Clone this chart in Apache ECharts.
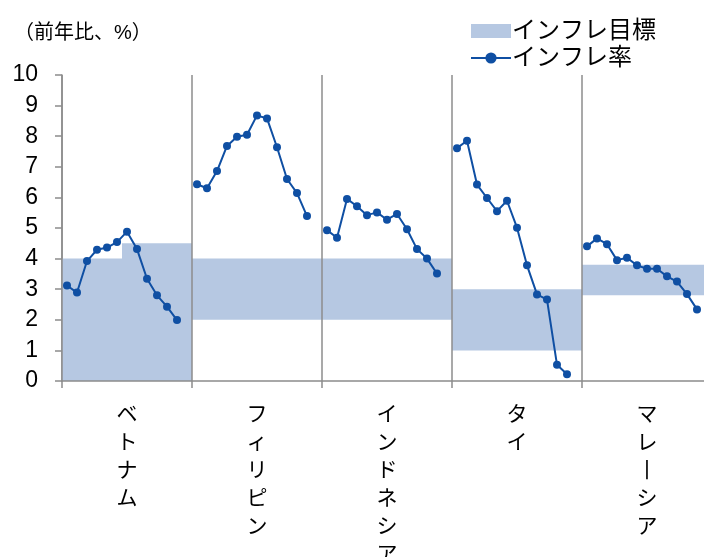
<!DOCTYPE html>
<html>
<head>
<meta charset="utf-8">
<script src="https://cdn.jsdelivr.net/npm/echarts@6/dist/echarts.min.js"></script>
<style>
  html, body { margin: 0; padding: 0; background: #fff; }
  #chart { width: 704px; height: 557px; }
</style>
</head>
<body>
<div id="chart"></div>
<script>
// Country groups (each has 12 monthly readings)
const countries = ['ベトナム', 'フィリピン', 'インドネシア', 'タイ', 'マレーシア'];

// Inflation rate, % y/y
const vietnam     = [3.12, 2.89, 3.92, 4.29, 4.36, 4.54, 4.88, 4.31, 3.34, 2.80, 2.43, 1.99];
const philippines = [6.43, 6.30, 6.86, 7.68, 7.98, 8.05, 8.68, 8.58, 7.64, 6.60, 6.14, 5.39];
const indonesia   = [4.93, 4.68, 5.95, 5.71, 5.42, 5.51, 5.27, 5.46, 4.96, 4.31, 4.00, 3.51];
const thailand    = [7.61, 7.85, 6.42, 5.98, 5.55, 5.89, 5.01, 3.78, 2.83, 2.66, 0.53, 0.22];
const malaysia    = [4.40, 4.66, 4.47, 3.95, 4.03, 3.78, 3.67, 3.67, 3.42, 3.25, 2.84, 2.34];

// Inflation target band per country (lower bound, upper bound in the first and second half)
const targetLower  = [0, 2, 2, 1, 2.8];
const targetUpper1 = [4, 4, 4, 3, 3.8];
const targetUpper2 = [4.5, 4, 4, 3, 3.8];

const yTicks = [0, 1, 2, 3, 4, 5, 6, 7, 8, 9, 10];

const rates = [vietnam, philippines, indonesia, thailand, malaysia];
const SLOTS = 13; // 12 months + one spacer slot per country
const HALF = 6;

const slotNames = [];
const lineData = [];
const bandSegments = []; // [firstSlot, lastSlot, lower, upper]
countries.forEach((c, g) => {
  for (let s = 0; s < SLOTS; s++) {
    slotNames.push(c + '-' + s);
    lineData.push(s < rates[g].length ? rates[g][s] : null);
  }
  const start = g * SLOTS;
  bandSegments.push([start, start + HALF - 1, targetLower[g], targetUpper1[g]]);
  bandSegments.push([start + HALF, start + SLOTS - 1, targetLower[g], targetUpper2[g]]);
});

const FONT = '"Liberation Sans", Arial, "Noto Sans CJK JP", sans-serif';
const BAND = '#b6c8e2';
const LINE = '#0f4fa3';
const AXIS = '#8c8c8c';

const chart = echarts.init(document.getElementById('chart'), null, { renderer: 'canvas' });
chart.setOption({
  animation: false,
  textStyle: { fontFamily: FONT, color: '#000' },
  grid: { left: 62, top: 75, width: 650, height: 306, outerBoundsMode: 'none', containLabel: false },
  legend: {
    orient: 'vertical',
    left: 465,
    top: 14,
    itemWidth: 40,
    itemHeight: 14,
    itemGap: 3,
    textStyle: { fontSize: 24, color: '#000', fontFamily: FONT, padding: [0, 0, 0, -4] },
    data: [
      { name: 'インフレ目標', icon: 'rect', itemStyle: { color: BAND } },
      { name: 'インフレ率' }
    ]
  },
  graphic: [{
    type: 'text',
    left: 14,
    top: 23,
    style: { text: '（前年比、%）', font: '20px ' + FONT, fill: '#000' }
  }],
  xAxis: [
    {
      type: 'category',
      data: slotNames,
      boundaryGap: true,
      axisLine: { show: false },
      axisTick: { show: false },
      axisLabel: { show: false },
      splitLine: { show: false }
    },
    {
      type: 'category',
      data: countries,
      position: 'bottom',
      boundaryGap: true,
      z: 5,
      axisLine: { show: true, lineStyle: { color: AXIS, width: 1.5 } },
      axisTick: { show: true, length: 7, lineStyle: { color: AXIS, width: 1.5 } },
      splitLine: { show: true, lineStyle: { color: AXIS, width: 1.5 } },
      axisLabel: {
        margin: 20,
        fontSize: 21,
        lineHeight: 28,
        color: '#000',
        verticalAlign: 'top',
        fontFamily: FONT,
        formatter: v => v.replace(/ー/g, '丨').split('').join('\n')
      }
    }
  ],
  yAxis: {
    type: 'value',
    min: yTicks[0],
    max: yTicks[yTicks.length - 1],
    interval: 1,
    axisLine: { show: true, lineStyle: { color: AXIS, width: 1.5 } },
    axisTick: { show: true, length: 7, lineStyle: { color: AXIS, width: 1.5 } },
    splitLine: { show: false },
    axisLabel: { fontSize: 23, color: '#000', margin: 24, fontFamily: FONT }
  },
  series: [
    {
      name: 'インフレ目標',
      type: 'custom',
      xAxisIndex: 0,
      data: bandSegments,
      encode: { x: [0, 1], y: [2, 3] },
      itemStyle: { color: BAND },
      z: 1,
      renderItem: (params, api) => {
        const half = api.size([1, 0])[0] / 2;
        const p0 = api.coord([api.value(0), api.value(3)]);
        const p1 = api.coord([api.value(1), api.value(2)]);
        return {
          type: 'rect',
          shape: { x: p0[0] - half, y: p0[1], width: p1[0] - p0[0] + 2 * half, height: p1[1] - p0[1] },
          style: { fill: BAND }
        };
      }
    },
    {
      name: 'インフレ率',
      type: 'line',
      xAxisIndex: 0,
      data: lineData,
      connectNulls: false,
      symbol: 'circle',
      symbolSize: 8,
      showSymbol: true,
      showAllSymbol: true,
      lineStyle: { color: LINE, width: 2 },
      itemStyle: { color: LINE },
      z: 10
    }
  ]
});
</script>
</body>
</html>
